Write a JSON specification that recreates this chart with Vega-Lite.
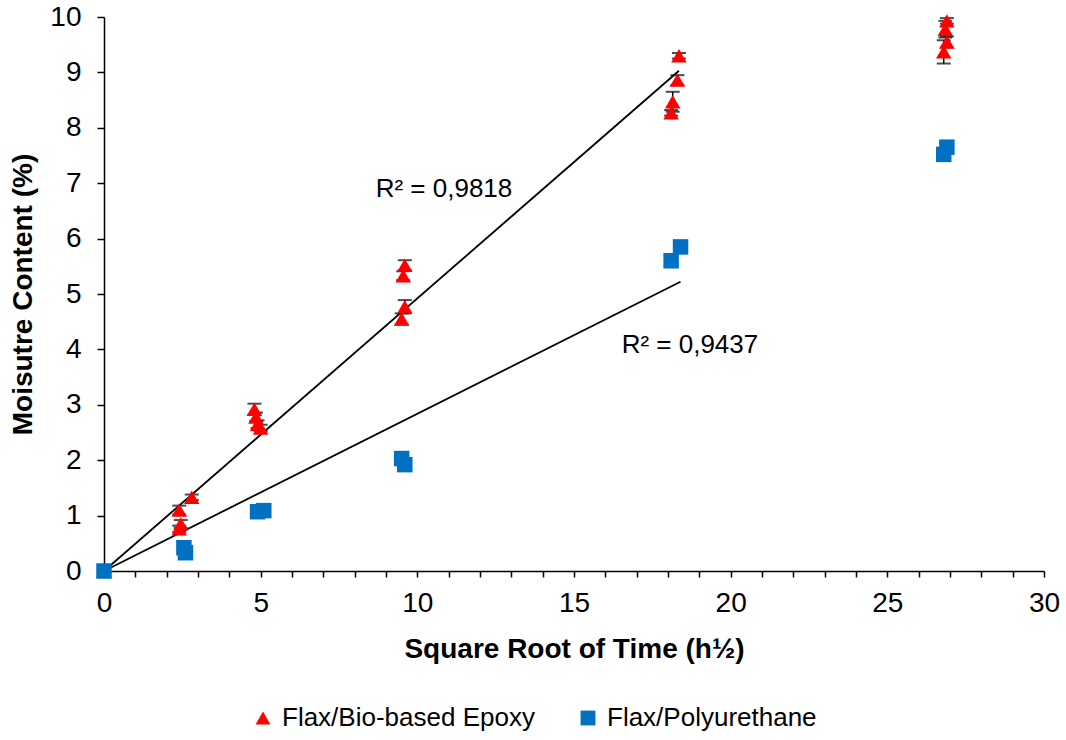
{
  "$schema": "https://vega.github.io/schema/vega-lite/v6.json",
  "autosize": "none",
  "width": 940,
  "height": 554,
  "padding": {"left": 104, "top": 17, "right": 22, "bottom": 169},
  "background": "white",
  "config": {
    "view": {"stroke": null},
    "font": "Liberation Sans",
    "axis": {"grid": false, "domainColor": "black", "domainWidth": 1.5, "tickColor": "black", "tickWidth": 1.5, "labelColor": "black", "titleColor": "black", "labelFont": "Liberation Sans", "titleFont": "Liberation Sans", "labelFontSize": 28, "titleFontSize": 28, "titleFontWeight": "bold"}
  },
  "datasets": {
    "pts": [
      {"series": "Flax/Bio-based Epoxy", "x": 0, "y": 0, "lo": 0, "hi": 0},
      {"series": "Flax/Bio-based Epoxy", "x": 2.4, "y": 1.1, "lo": 1.02, "hi": 1.18},
      {"series": "Flax/Bio-based Epoxy", "x": 2.45, "y": 0.85, "lo": 0.78, "hi": 0.92},
      {"series": "Flax/Bio-based Epoxy", "x": 2.4, "y": 0.76, "lo": 0.7, "hi": 0.82},
      {"series": "Flax/Bio-based Epoxy", "x": 2.8, "y": 1.33, "lo": 1.28, "hi": 1.38},
      {"series": "Flax/Bio-based Epoxy", "x": 4.8, "y": 2.92, "lo": 2.82, "hi": 3.02},
      {"series": "Flax/Bio-based Epoxy", "x": 4.85, "y": 2.78, "lo": 2.7, "hi": 2.86},
      {"series": "Flax/Bio-based Epoxy", "x": 4.9, "y": 2.65, "lo": 2.58, "hi": 2.72},
      {"series": "Flax/Bio-based Epoxy", "x": 5.0, "y": 2.58, "lo": 2.52, "hi": 2.64},
      {"series": "Flax/Bio-based Epoxy", "x": 9.6, "y": 5.52, "lo": 5.43, "hi": 5.61},
      {"series": "Flax/Bio-based Epoxy", "x": 9.55, "y": 5.33, "lo": 5.25, "hi": 5.41},
      {"series": "Flax/Bio-based Epoxy", "x": 9.6, "y": 4.77, "lo": 4.65, "hi": 4.89},
      {"series": "Flax/Bio-based Epoxy", "x": 9.5, "y": 4.55, "lo": 4.45, "hi": 4.65},
      {"series": "Flax/Bio-based Epoxy", "x": 18.35, "y": 9.3, "lo": 9.25, "hi": 9.35},
      {"series": "Flax/Bio-based Epoxy", "x": 18.3, "y": 8.86, "lo": 8.77, "hi": 8.95},
      {"series": "Flax/Bio-based Epoxy", "x": 18.15, "y": 8.47, "lo": 8.29, "hi": 8.65},
      {"series": "Flax/Bio-based Epoxy", "x": 18.1, "y": 8.27, "lo": 8.22, "hi": 8.32},
      {"series": "Flax/Bio-based Epoxy", "x": 26.9, "y": 9.93, "lo": 9.88, "hi": 9.98},
      {"series": "Flax/Bio-based Epoxy", "x": 26.85, "y": 9.78, "lo": 9.63, "hi": 9.93},
      {"series": "Flax/Bio-based Epoxy", "x": 26.9, "y": 9.55, "lo": 9.45, "hi": 9.65},
      {"series": "Flax/Bio-based Epoxy", "x": 26.8, "y": 9.37, "lo": 9.16, "hi": 9.58},
      {"series": "Flax/Polyurethane", "x": 0, "y": 0, "lo": 0, "hi": 0},
      {"series": "Flax/Polyurethane", "x": 2.55, "y": 0.42, "lo": 0.42, "hi": 0.42},
      {"series": "Flax/Polyurethane", "x": 2.6, "y": 0.33, "lo": 0.33, "hi": 0.33},
      {"series": "Flax/Polyurethane", "x": 4.9, "y": 1.07, "lo": 1.07, "hi": 1.07},
      {"series": "Flax/Polyurethane", "x": 5.1, "y": 1.09, "lo": 1.09, "hi": 1.09},
      {"series": "Flax/Polyurethane", "x": 9.5, "y": 2.03, "lo": 2.03, "hi": 2.03},
      {"series": "Flax/Polyurethane", "x": 9.6, "y": 1.92, "lo": 1.92, "hi": 1.92},
      {"series": "Flax/Polyurethane", "x": 18.1, "y": 5.6, "lo": 5.6, "hi": 5.6},
      {"series": "Flax/Polyurethane", "x": 18.4, "y": 5.85, "lo": 5.85, "hi": 5.85},
      {"series": "Flax/Polyurethane", "x": 26.8, "y": 7.52, "lo": 7.52, "hi": 7.52},
      {"series": "Flax/Polyurethane", "x": 26.9, "y": 7.65, "lo": 7.65, "hi": 7.65}
    ],
    "trend": [
      {"series": "Flax/Bio-based Epoxy", "x": 0, "y": 0},
      {"series": "Flax/Bio-based Epoxy", "x": 18.35, "y": 9.03},
      {"series": "Flax/Polyurethane", "x": 0, "y": 0},
      {"series": "Flax/Polyurethane", "x": 18.4, "y": 5.22}
    ],
    "labels": [
      {"x": 10.85, "y": 6.9, "label": "R² = 0,9818"},
      {"x": 18.7, "y": 4.08, "label": "R² = 0,9437"}
    ]
  },
  "encoding": {
    "x": {"field": "x", "type": "quantitative", "scale": {"domain": [0, 30], "nice": false, "zero": true},
      "axis": {"title": "Square Root of Time (h½)", "values": [0,1,2,3,4,5,6,7,8,9,10,11,12,13,14,15,16,17,18,19,20,21,22,23,24,25,26,27,28,29,30], "labelExpr": "datum.value % 5 === 0 ? datum.label : ''", "tickSize": 6, "labelPadding": 12, "titlePadding": 18, "labelFlush": false, "labelOverlap": false}},
    "y": {"field": "y", "type": "quantitative", "scale": {"domain": [0, 10], "nice": false},
      "axis": {"title": "Moisutre Content (%)", "values": [0,1,2,3,4,5,6,7,8,9,10], "tickSize": 7, "labelPadding": 16, "titlePadding": 12, "labelFlush": false}}
  },
  "layer": [
    {
      "data": {"name": "trend"},
      "mark": {"type": "line", "color": "black", "strokeWidth": 1.8},
      "encoding": {"detail": {"field": "series"}}
    },
    {
      "data": {"name": "pts"},
      "transform": [{"filter": "datum.series === 'Flax/Bio-based Epoxy' && datum.hi > datum.lo"}],
      "mark": {"type": "rule", "color": "black", "strokeWidth": 1.5},
      "encoding": {
        "y": {"field": "lo", "type": "quantitative", "scale": {"domain": [0, 10], "nice": false},
          "axis": {"title": "Moisutre Content (%)", "values": [0,1,2,3,4,5,6,7,8,9,10], "tickSize": 7, "labelPadding": 16, "titlePadding": 12, "labelFlush": false}},
        "y2": {"field": "hi"}
      }
    },
    {
      "data": {"name": "pts"},
      "transform": [{"filter": "datum.series === 'Flax/Bio-based Epoxy' && datum.hi > datum.lo"}],
      "mark": {"type": "tick", "orient": "horizontal", "color": "black", "thickness": 2, "size": 14},
      "encoding": {
        "y": {"field": "lo", "type": "quantitative", "scale": {"domain": [0, 10], "nice": false},
          "axis": {"title": "Moisutre Content (%)", "values": [0,1,2,3,4,5,6,7,8,9,10], "tickSize": 7, "labelPadding": 16, "titlePadding": 12, "labelFlush": false}}
      }
    },
    {
      "data": {"name": "pts"},
      "transform": [{"filter": "datum.series === 'Flax/Bio-based Epoxy' && datum.hi > datum.lo"}],
      "mark": {"type": "tick", "orient": "horizontal", "color": "black", "thickness": 2, "size": 14},
      "encoding": {
        "y": {"field": "hi", "type": "quantitative", "scale": {"domain": [0, 10], "nice": false},
          "axis": {"title": "Moisutre Content (%)", "values": [0,1,2,3,4,5,6,7,8,9,10], "tickSize": 7, "labelPadding": 16, "titlePadding": 12, "labelFlush": false}}
      }
    },
    {
      "data": {"name": "pts"},
      "mark": {"type": "point", "filled": true, "opacity": 1, "size": 240},
      "encoding": {
        "color": {"field": "series", "type": "nominal",
          "scale": {"domain": ["Flax/Bio-based Epoxy", "Flax/Polyurethane"], "range": ["#FF0000", "#0070C0"]},
          "legend": {"title": null, "orient": "none", "direction": "horizontal", "legendX": 146, "legendY": 688, "labelFontSize": 26, "labelFont": "Liberation Sans", "labelColor": "black", "labelLimit": 0, "symbolSize": 220, "columnPadding": 40, "labelOffset": 6}},
        "shape": {"field": "series", "type": "nominal",
          "scale": {"domain": ["Flax/Bio-based Epoxy", "Flax/Polyurethane"], "range": ["triangle-up", "square"]}}
      }
    },
    {
      "data": {"name": "labels"},
      "mark": {"type": "text", "fontSize": 26, "font": "Liberation Sans", "color": "black", "align": "center", "baseline": "middle"},
      "encoding": {"text": {"field": "label"}}
    }
  ]
}
